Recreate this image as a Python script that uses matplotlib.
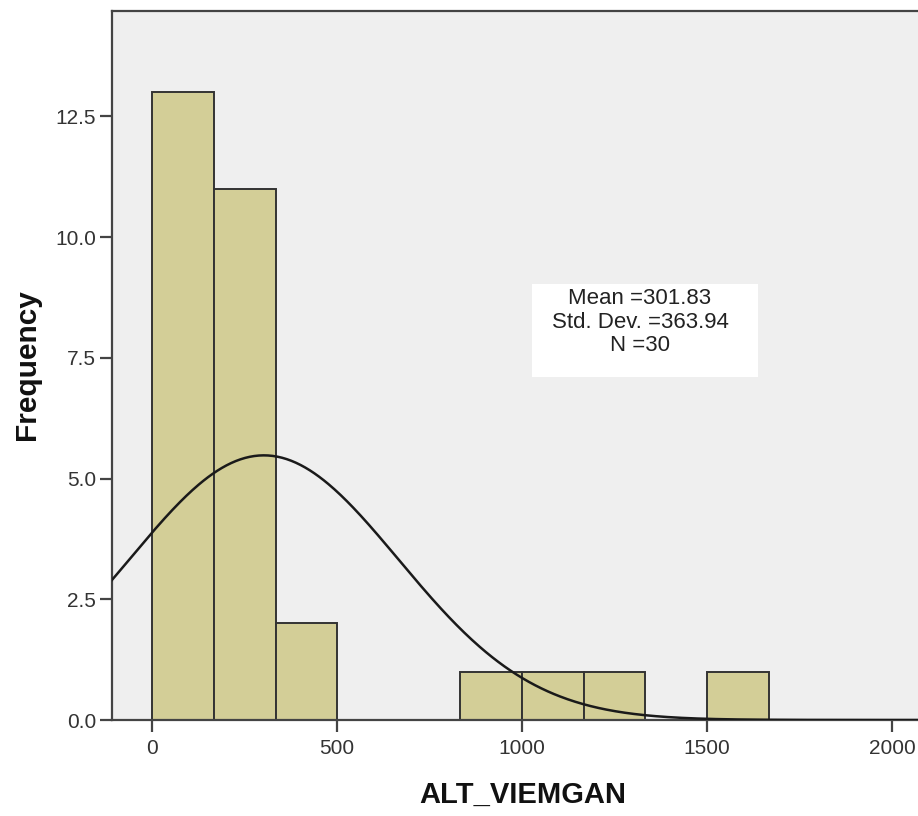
import numpy as np
import matplotlib
matplotlib.use("Agg")
import matplotlib.pyplot as plt
from matplotlib.patches import Rectangle

# ---- data ----
bin_edges = [0, 166.67, 333.33, 500, 666.67, 833.33, 1000, 1166.67, 1333.33, 1500, 1666.67]
counts = [13, 11, 2, 0, 0, 1, 1, 1, 0, 1]
mean_val = 301.83
std_val = 363.94
n_val = 30
x_ticks = [0, 500, 1000, 1500, 2000]
y_ticks = [0.0, 2.5, 5.0, 7.5, 10.0, 12.5]
x_label = "ALT_VIEMGAN"
y_label = "Frequency"
stats_lines = ["Mean =301.83", "Std. Dev. =363.94", "N =30"]

W, H = 918, 816
fig = plt.figure(figsize=(W / 100, H / 100), dpi=100)
plt.rcParams['font.family'] = ['Liberation Sans', 'DejaVu Sans']

def fx(px):
    return px / W

def fy(py):
    return (H - py) / H

ax_left, ax_right, ax_top, ax_bot = 112.3, 940.0, 10.7, 720.0
ax = fig.add_axes([fx(ax_left), fy(ax_bot), fx(ax_right - ax_left), (ax_bot - ax_top) / H])
ax.set_facecolor("#efefef")

edges = np.array(bin_edges)
widths = np.diff(edges)
ax.bar(edges[:-1], counts, width=widths, align="edge", color="#d3ce97",
       edgecolor="#333333", linewidth=1.4, zorder=2)

xx = np.linspace(-200, 2300, 600)
bw = widths[0]
yy = n_val * bw / (std_val * np.sqrt(2 * np.pi)) * np.exp(-0.5 * ((xx - mean_val) / std_val) ** 2)
ax.plot(xx, yy, color="#1a1a1a", linewidth=1.8, zorder=3)

ax.set_xlim(-108, (ax_right - 152.3) / 0.36985)
ax.set_ylim(0, 14.69)
ax.set_xticks(x_ticks)
ax.set_xticklabels([str(t) for t in x_ticks])
ax.set_yticks(y_ticks)
ax.set_yticklabels([f"{t:.1f}" for t in y_ticks])

for s in ["left", "bottom", "top"]:
    ax.spines[s].set_color("#444444")
    ax.spines[s].set_linewidth(1.6)
ax.spines["right"].set_visible(False)
ax.tick_params(axis="both", direction="out", length=8.5, width=1.6, color="#444444",
               labelsize=15, labelcolor="#333333")
ax.tick_params(axis="y", pad=3)
ax.tick_params(axis="x", pad=5)

# stats box
ax.add_patch(Rectangle((fx(531.7), fy(377.3)), fx(758.3 - 531.7), (377.3 - 284) / H,
                       transform=fig.transFigure, facecolor="white", edgecolor="none", zorder=4))
for line, py in zip(stats_lines, [299, 322, 345]):
    fig.text(fx(640), fy(py), line, ha="center", va="center", fontsize=16,
             color="#222222", zorder=5)

fig.text(fx(523), fy(795), x_label, ha="center", va="center", fontsize=21,
         fontweight="bold", color="#111111")
fig.text(fx(27), fy(365), y_label, ha="center", va="center", fontsize=21.5,
         fontweight="bold", rotation=90, color="#111111")

fig.savefig("out.png", dpi=100)
